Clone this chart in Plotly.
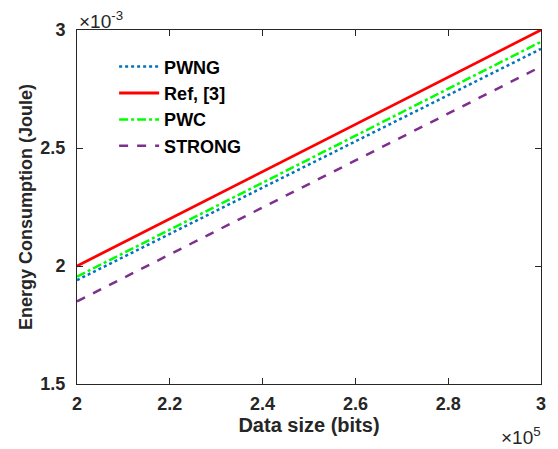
import plotly.graph_objects as go

data_size = [2.0e5, 2.2e5, 2.4e5, 2.6e5, 2.8e5, 3.0e5]
pwng = [1.940e-3, 2.136e-3, 2.332e-3, 2.528e-3, 2.724e-3, 2.920e-3]
ref3 = [2.000e-3, 2.200e-3, 2.400e-3, 2.600e-3, 2.800e-3, 3.000e-3]
pwc = [1.955e-3, 2.154e-3, 2.353e-3, 2.552e-3, 2.751e-3, 2.950e-3]
strong = [1.850e-3, 2.049e-3, 2.248e-3, 2.447e-3, 2.646e-3, 2.845e-3]

x_ticks = [2.0e5, 2.2e5, 2.4e5, 2.6e5, 2.8e5, 3.0e5]
x_labels = ["2", "2.2", "2.4", "2.6", "2.8", "3"]
y_ticks = [1.5e-3, 2.0e-3, 2.5e-3, 3.0e-3]
y_labels = ["1.5", "2", "2.5", "3"]

FONT = "Liberation Sans, Arial, sans-serif"
AX = "#262626"

fig = go.Figure()
series = [
    ("PWNG", pwng, "#0072BD", "dot", 2.5),
    ("Ref, [3]", ref3, "#FF0000", "solid", 2.8),
    ("PWC", pwc, "#00FF00", "dashdot", 2.5),
    ("STRONG", strong, "#7E2F8E", "dash", 2.5),
]
for name, ys, col, dash, w in series:
    fig.add_trace(go.Scatter(x=data_size, y=ys, mode="lines", name=name,
                             line=dict(color=col, dash=dash, width=w)))

fig.update_layout(
    width=558, height=449,
    margin=dict(l=77, r=13, t=30, b=65),
    paper_bgcolor="white", plot_bgcolor="white",
    font=dict(family=FONT, color=AX, size=15),
    showlegend=True,
    legend=dict(x=0.08, y=0.948, xanchor="left", yanchor="top",
                bgcolor="rgba(0,0,0,0)", borderwidth=0,
                font=dict(family=FONT, size=18, color="black", weight="bold"),
                traceorder="normal", itemwidth=40),
)
fig.update_xaxes(range=[2.0e5, 3.0e5], tickvals=x_ticks, ticktext=x_labels,
                 ticks="inside", ticklen=6, tickcolor=AX, showline=True,
                 linecolor=AX, linewidth=1, mirror="ticks", showgrid=False,
                 zeroline=False, ticklabelstandoff=3,
                 tickfont=dict(family=FONT, size=18, color=AX, weight="bold"),
                 title=dict(text="<b>Data size (bits)</b>", standoff=4,
                            font=dict(family=FONT, size=20, color=AX)))
fig.update_yaxes(range=[1.5e-3, 3.0e-3], tickvals=y_ticks, ticktext=y_labels,
                 ticks="inside", ticklen=6, tickcolor=AX, showline=True,
                 linecolor=AX, linewidth=1, mirror="ticks", showgrid=False,
                 zeroline=False, ticklabelstandoff=7,
                 tickfont=dict(family=FONT, size=18, color=AX, weight="bold"),
                 title=dict(text="<b>Energy Consumption (Joule)</b>", standoff=3,
                            font=dict(family=FONT, size=18, color=AX)))
fig.add_annotation(xref="paper", yref="paper", x=0.0, y=1.0, xanchor="left",
                   yanchor="bottom", showarrow=False, yshift=-4,
                   text="×10<sup>-3</sup>",
                   font=dict(family=FONT, size=19, color=AX))
fig.add_annotation(xref="paper", yref="paper", x=1.0, y=0.0, xanchor="right",
                   yanchor="top", showarrow=False, yshift=-38, xshift=2,
                   text="×10<sup>5</sup>",
                   font=dict(family=FONT, size=19, color=AX))
fig.write_html("out.html", config={"displayModeBar": False},
               post_script="document.body.style.margin='0px';")
